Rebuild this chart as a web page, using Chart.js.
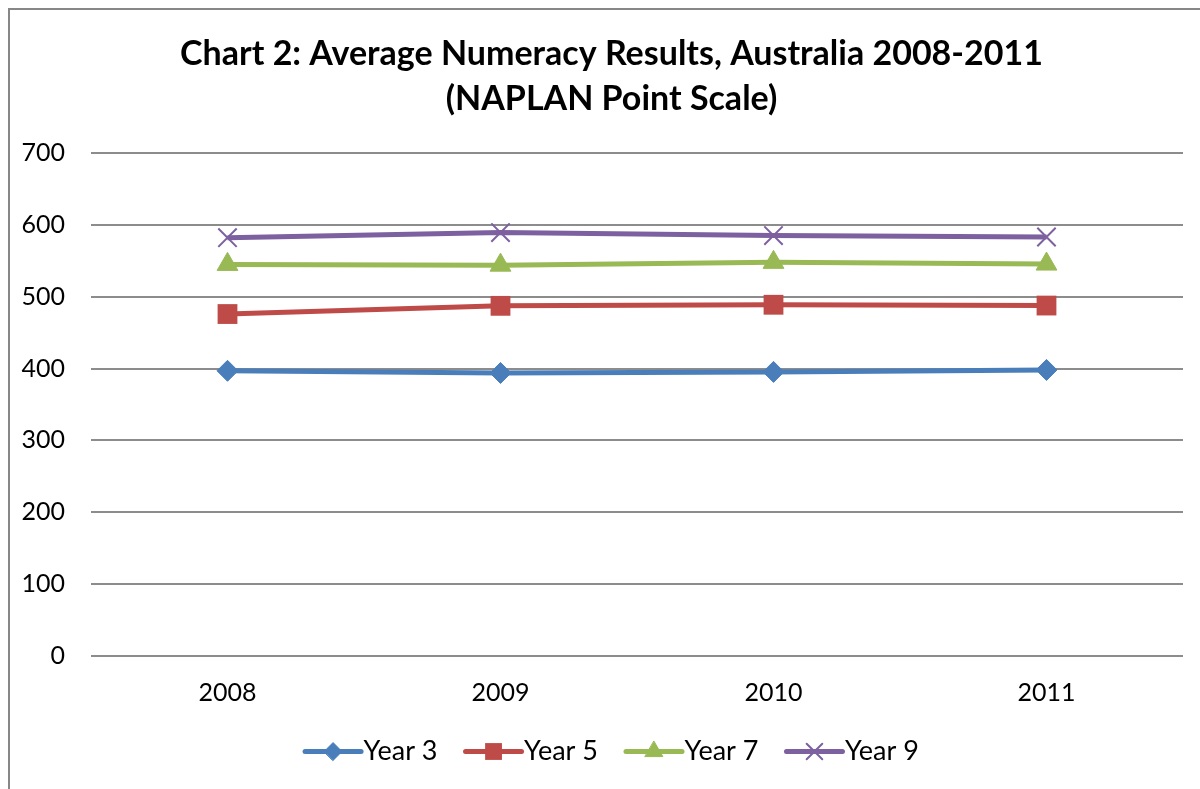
<!DOCTYPE html>
<html>
<head>
<meta charset="utf-8">
<script src="https://cdn.jsdelivr.net/npm/chart.js@4.4.0/dist/chart.umd.min.js"></script>
<style>
  html, body { margin: 0; padding: 0; background: #fff; }
  #wrap { position: relative; width: 1200px; height: 789px; }
</style>
</head>
<body>
<div id="wrap"><canvas id="c" width="1200" height="789"></canvas></div>
<script>
const categories = ['2008', '2009', '2010', '2011'];
const year3 = [396.9, 393.9, 395.4, 398.1];
const year5 = [475.9, 487.3, 488.8, 487.7];
const year7 = [545.0, 543.9, 547.8, 545.4];
const year9 = [582.2, 589.3, 585.1, 583.1];
const seriesNames = ['Year 3', 'Year 5', 'Year 7', 'Year 9'];
const titleLines = ['Chart 2: Average Numeracy Results, Australia 2008-2011', '(NAPLAN Point Scale)'];

const FONT = 'Lato, Calibri, "Noto Sans", sans-serif';
const colors = ['#4A7EBB', '#BE4B48', '#98B954', '#7D60A0'];
const styles = [
  { pointStyle: 'rectRot', pointRadius: 10.5, pointBorderWidth: 1 },
  { pointStyle: 'rect', pointRadius: 14, pointBorderWidth: 0 },
  { pointStyle: 'triangle', pointRadius: 12, pointBorderWidth: 1 },
  { pointStyle: 'crossRot', pointRadius: 13, pointBorderWidth: 2 }
];
const values = [year3, year5, year7, year9];

const datasets = values.map((v, i) => ({
  label: seriesNames[i],
  data: v,
  borderColor: colors[i],
  backgroundColor: colors[i],
  pointBackgroundColor: colors[i],
  pointBorderColor: colors[i],
  borderWidth: 5,
  pointStyle: styles[i].pointStyle,
  pointRadius: styles[i].pointRadius,
  pointHoverRadius: styles[i].pointRadius,
  pointBorderWidth: styles[i].pointBorderWidth,
  tension: 0,
  fill: false
}));

const frame = {
  id: 'frame',
  beforeDraw(chart) {
    const ctx = chart.ctx;
    ctx.save();
    ctx.fillStyle = '#fff';
    ctx.fillRect(0, 0, chart.width, chart.height);
    ctx.strokeStyle = '#878787';
    ctx.lineWidth = 2;
    ctx.strokeRect(9, 9, chart.width + 20, chart.height + 20);
    ctx.restore();
  }
};

// The reference chart box extends past the right edge of the picture,
// so its title and legend are centred ~20px right of the plot centre.
const SHIFT = 20;
const shiftBoxes = {
  id: 'shiftBoxes',
  afterUpdate(chart) {
    const t = chart.titleBlock;
    if (t) { t.left += SHIFT; t.right += SHIFT; }
    const lg = chart.legend;
    if (lg) {
      lg.left += SHIFT; lg.right += SHIFT;
      (lg.legendHitBoxes || []).forEach(hb => { hb.left += SHIFT; });
    }
  }
};

const legendSymbols = {
  id: 'legendSymbols',
  afterDraw(chart) {
    const lg = chart.legend;
    if (!lg || !lg.legendHitBoxes) return;
    const ctx = chart.ctx;
    lg.legendHitBoxes.forEach((hb, i) => {
      const ds = chart.data.datasets[i];
      const y = hb.top + hb.height / 2;
      const x0 = hb.left + 1;
      const x1 = hb.left + 57;
      ctx.save();
      ctx.strokeStyle = ds.borderColor;
      ctx.lineWidth = 5;
      ctx.lineCap = 'round';
      ctx.beginPath();
      ctx.moveTo(x0, y);
      ctx.lineTo(x1, y);
      ctx.stroke();
      ctx.fillStyle = ds.pointBackgroundColor;
      ctx.strokeStyle = ds.pointBorderColor;
      ctx.lineWidth = ds.pointBorderWidth;
      Chart.helpers.drawPoint(ctx, {
        pointStyle: ds.pointStyle,
        radius: ds.pointRadius * 0.85,
        rotation: 0,
        borderWidth: ds.pointBorderWidth
      }, (x0 + x1) / 2, y);
      ctx.restore();
    });
  }
};

new Chart(document.getElementById('c'), {
  type: 'line',
  data: { labels: categories, datasets },
  plugins: [frame, shiftBoxes, legendSymbols],
  options: {
    responsive: false,
    animation: false,
    layout: { padding: { left: 0, right: 17, top: 0, bottom: 14 } },
    plugins: {
      tooltip: { enabled: false },
      title: {
        display: true,
        text: titleLines,
        color: '#000',
        font: { family: FONT, size: 34, weight: 'bold', lineHeight: 1.3235 },
        padding: { top: 32, bottom: 31 }
      },
      legend: {
        position: 'bottom',
        labels: {
          color: '#000',
          font: { family: FONT, size: 27 },
          boxWidth: 46,
          padding: 27,
          generateLabels(chart) {
            return chart.data.datasets.map((ds, i) => ({
              text: ds.label,
              fillStyle: 'rgba(0,0,0,0)',
              strokeStyle: 'rgba(0,0,0,0)',
              lineWidth: 0,
              datasetIndex: i,
              hidden: false
            }));
          }
        }
      }
    },
    scales: {
      x: {
        offset: true,
        grid: { display: false, drawTicks: false },
        border: { display: false },
        ticks: { color: '#000', font: { family: FONT, size: 25 }, padding: 22 },
        afterFit(scale) { scale.height = 55; }
      },
      y: {
        min: 0,
        max: 700,
        grid: { color: '#8c8c8c', lineWidth: 2, drawTicks: false },
        border: { display: false },
        ticks: { stepSize: 100, color: '#000', font: { family: FONT, size: 25 }, padding: 26 },
        afterFit(scale) { scale.width = 91; }
      }
    }
  }
});
</script>
</body>
</html>
